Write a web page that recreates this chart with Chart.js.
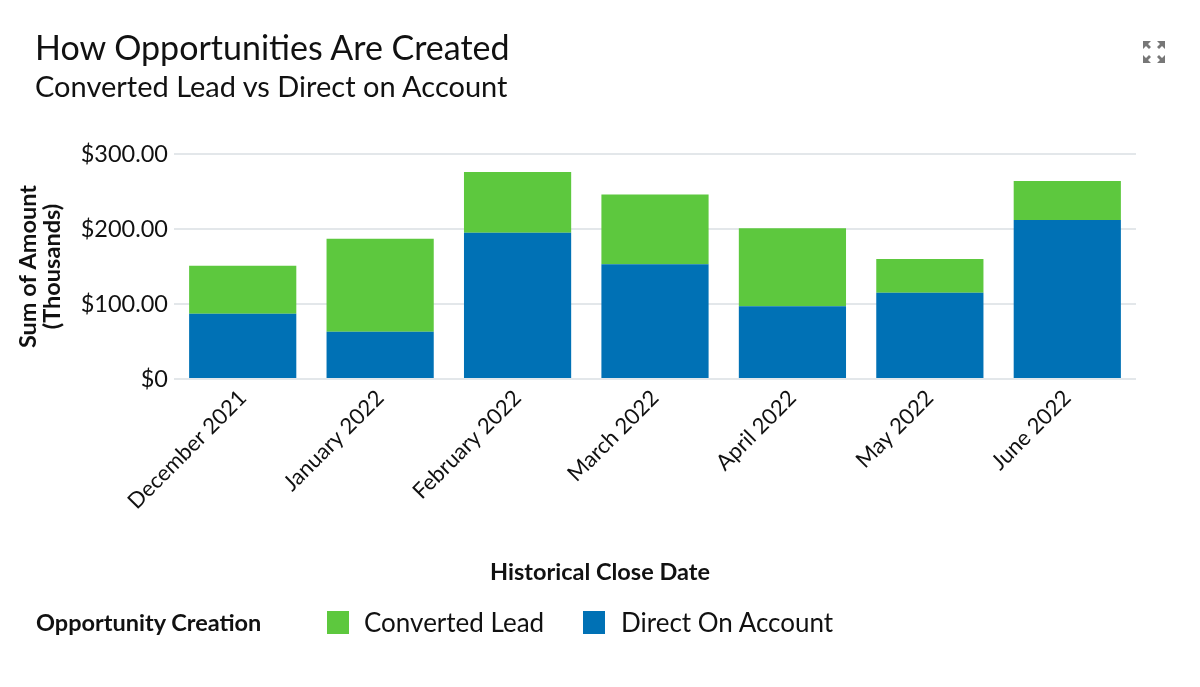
<!DOCTYPE html>
<html><head><meta charset="utf-8">
<script src="https://cdn.jsdelivr.net/npm/chart.js@4"></script>
<style>
html,body{margin:0;padding:0;background:#fff;width:1200px;height:687px;overflow:hidden;font-family:Lato,"Noto Sans",sans-serif;color:#111;}
#wrap{position:absolute;left:0;top:0;width:1200px;height:687px;}
#title{position:absolute;left:35px;top:27px;font-size:34px;line-height:40px;white-space:nowrap;}
#subtitle{position:absolute;left:35px;top:69px;font-size:29px;line-height:34px;white-space:nowrap;}
#icon{position:absolute;left:1142px;top:40px;width:24px;height:24px;}
#xtitle{position:absolute;left:0;width:1200px;top:556px;text-align:center;font-weight:bold;font-size:23.5px;line-height:30px;}
#legend{position:absolute;left:36px;top:605px;height:34px;font-size:26px;line-height:34px;white-space:nowrap;}
#legend .lt{position:absolute;left:0;top:0;font-weight:bold;font-size:23.5px;}
#legend .it{position:absolute;top:0;}
#legend .sw{position:absolute;top:6px;width:22px;height:23px;}
</style></head>
<body><div id="wrap">
<canvas id="c" width="1200" height="687" style="position:absolute;left:0;top:0;width:1200px;height:687px;"></canvas>
<div id="title">How Opportunities Are Created</div>
<div id="subtitle">Converted Lead vs Direct on Account</div>
<svg id="icon" viewBox="0 0 24 24"><g fill="#777">
<path d="M1 1h8l-3 3 3 3-2 2-3-3-3 3z"/><path d="M23 1h-8l3 3-3 3 2 2 3-3 3 3z"/>
<path d="M1 23h8l-3-3 3-3-2-2-3 3-3-3z"/><path d="M23 23h-8l3-3-3-3 2-2 3 3 3-3z"/></g></svg>
<div id="xtitle"></div>
<div id="legend"></div>
</div>
<script>
const categories = ["December 2021","January 2022","February 2022","March 2022","April 2022","May 2022","June 2022"];
const directOnAccount = [87, 63, 195, 153, 97, 115, 212];
const convertedLead = [64, 124, 81, 93, 104, 45, 52];
const seriesNames = ["Converted Lead","Direct On Account"];
const seriesColors = ["#5DC83E","#0071B5"];
const yTicks = [0, 100, 200, 300];
const legendTitle = "Opportunity Creation";
const xAxisTitle = "Historical Close Date";
const yAxisTitle = ["Sum of Amount","(Thousands)"];

function fmt(v){ return v === 0 ? "$0" : "$" + v.toFixed(2); }

const font = "Lato";
new Chart(document.getElementById("c"), {
  type: "bar",
  data: {
    labels: categories,
    datasets: [
      {label: seriesNames[1], data: directOnAccount, backgroundColor: seriesColors[1], barPercentage: 0.78, categoryPercentage: 1.0},
      {label: seriesNames[0], data: convertedLead, backgroundColor: seriesColors[0], barPercentage: 0.78, categoryPercentage: 1.0}
    ]
  },
  options: {
    responsive: false,
    animation: false,
    devicePixelRatio: 1,
    layout: {padding: {top: 154, left: 0, right: 64, bottom: 100}},
    plugins: {legend: {display: false}, tooltip: {enabled: false}, title: {display: false}},
    scales: {
      x: {
        stacked: true,
        grid: {display: false, drawTicks: false},
        border: {display: false},
        ticks: {color: "#111", font: {family: font, size: 22}, maxRotation: 45, minRotation: 45, padding: 6, autoSkip: false},
        afterFit(s){ s.height = 208; }
      },
      y: {
        stacked: true,
        min: 0, max: 300,
        afterBuildTicks(s){ s.ticks = yTicks.map(v=>({value:v})); },
        grid: {color: "#E3E7EA", lineWidth: 2, drawTicks: false},
        border: {display: false},
        ticks: {color: "#111", font: {family: font, size: 23.5}, padding: 6, callback: (v)=>fmt(v)},
        title: {display: true, text: yAxisTitle, color: "#111", font: {family: font, size: 23.5, weight: "bold", lineHeight: 1.03}, padding: {top: 16, bottom: 0}},
        afterFit(s){ s.width = 174; }
      }
    }
  }
});

document.getElementById("xtitle").textContent = xAxisTitle;
// HTML legend built from series arrays
const lg = document.getElementById("legend");
const t = document.createElement("span"); t.className = "lt"; t.textContent = legendTitle; lg.appendChild(t);
const pos = [{sw: 291, tx: 328}, {sw: 547, tx: 585}];
seriesNames.forEach((n,i)=>{
  const sw = document.createElement("span"); sw.className = "sw"; sw.style.left = pos[i].sw + "px"; sw.style.background = seriesColors[i]; lg.appendChild(sw);
  const tx = document.createElement("span"); tx.className = "it"; tx.style.left = pos[i].tx + "px"; tx.textContent = n; lg.appendChild(tx);
});
</script>
</body></html>
